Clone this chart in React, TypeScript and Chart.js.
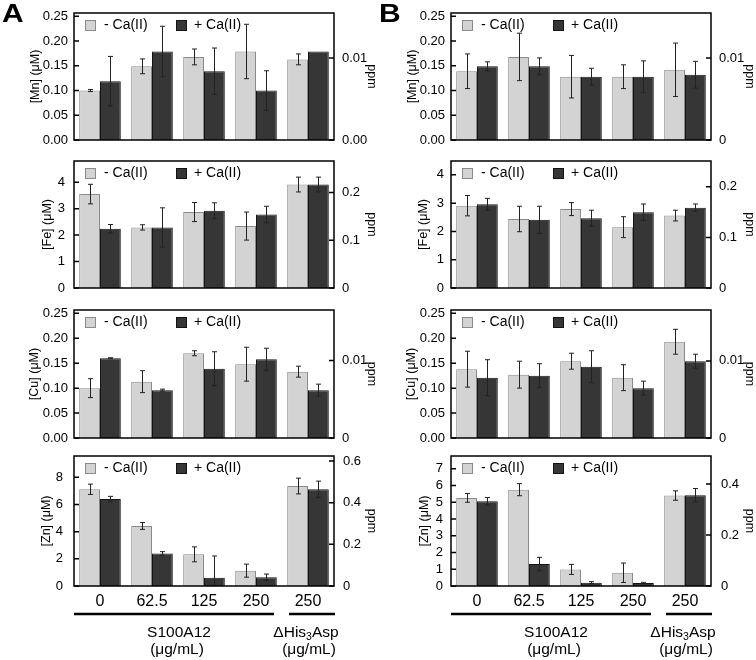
import React, { useEffect, useRef } from 'react';
import { Chart, registerables } from 'chart.js';

Chart.register(...registerables);

const FONT = '"Liberation Sans", Arial, Helvetica, sans-serif';
Chart.defaults.font.family = FONT;
Chart.defaults.color = '#000';

// ---------- data ----------
const categories = ['0', '62.5', '125', '250', '250'];
const seriesNames = ['- Ca(II)', '+ Ca(II)'];

// Panel A
const mnA_noCa = [0.100, 0.149, 0.168, 0.179, 0.163];
const mnA_noCaErr = [0.002, 0.015, 0.016, 0.055, 0.011];
const mnA_Ca = [0.119, 0.179, 0.139, 0.100, 0.179];
const mnA_CaErr = [0.050, 0.051, 0.047, 0.040, 0];

const feA_noCa = [3.55, 2.29, 2.87, 2.34, 3.91];
const feA_noCaErr = [0.37, 0.10, 0.36, 0.53, 0.28];
const feA_Ca = [2.24, 2.29, 2.92, 2.78, 3.91];
const feA_CaErr = [0.16, 0.74, 0.30, 0.31, 0.28];

const cuA_noCa = [0.100, 0.113, 0.170, 0.148, 0.133];
const cuA_noCaErr = [0.019, 0.022, 0.005, 0.034, 0.011];
const cuA_Ca = [0.160, 0.096, 0.139, 0.158, 0.096];
const cuA_CaErr = [0.001, 0.002, 0.034, 0.022, 0.012];

const znA_noCa = [7.12, 4.42, 2.33, 1.13, 7.36];
const znA_noCaErr = [0.38, 0.25, 0.55, 0.48, 0.58];
const znA_Ca = [6.40, 2.40, 0.61, 0.64, 7.12];
const znA_CaErr = [0.20, 0.13, 1.60, 0.24, 0.60];

// Panel B
const mnB_noCa = [0.139, 0.168, 0.128, 0.128, 0.142];
const mnB_noCaErr = [0.035, 0.048, 0.043, 0.024, 0.054];
const mnB_Ca = [0.149, 0.149, 0.128, 0.128, 0.132];
const mnB_CaErr = [0.009, 0.017, 0.017, 0.032, 0.027];

const feB_noCa = [2.91, 2.44, 2.79, 2.15, 2.56];
const feB_noCaErr = [0.36, 0.45, 0.23, 0.37, 0.19];
const feB_Ca = [2.96, 2.41, 2.47, 2.68, 2.84];
const feB_CaErr = [0.21, 0.48, 0.28, 0.29, 0.13];

const cuB_noCa = [0.138, 0.127, 0.154, 0.121, 0.193];
const cuB_noCaErr = [0.036, 0.027, 0.016, 0.026, 0.025];
const cuB_Ca = [0.121, 0.125, 0.143, 0.100, 0.154];
const cuB_CaErr = [0.036, 0.024, 0.032, 0.014, 0.014];

const znB_noCa = [5.26, 5.75, 0.99, 0.79, 5.40];
const znB_noCaErr = [0.26, 0.36, 0.30, 0.58, 0.28];
const znB_Ca = [5.06, 1.31, 0.20, 0.18, 5.42];
const znB_CaErr = [0.22, 0.40, 0.06, 0.04, 0.40];

// tick values and labels
const uMTicks005 = [0, 0.05, 0.10, 0.15, 0.20, 0.25];
const uMLabels005 = ['0.00', '0.05', '0.10', '0.15', '0.20', '0.25'];
const feTicks = [0, 1, 2, 3, 4];
const feLabels = ['0', '1', '2', '3', '4'];
const znATicks = [0, 2, 4, 6, 8];
const znALabels = ['0', '2', '4', '6', '8'];
const znBTicks = [0, 1, 2, 3, 4, 5, 6, 7];
const znBLabels = ['0', '1', '2', '3', '4', '5', '6', '7'];

const ppmSmallTicks = [0, 0.01];
const ppmMnALabels = ['0.00', '0.01'];
const ppmSmallLabels = ['0', '0.01'];
const ppmFeTicks = [0, 0.1, 0.2];
const ppmFeLabels = ['0', '0.1', '0.2'];
const ppmZnATicks = [0, 0.2, 0.4, 0.6];
const ppmZnALabels = ['0', '0.2', '0.4', '0.6'];
const ppmZnBTicks = [0, 0.2, 0.4];
const ppmZnBLabels = ['0', '0.2', '0.4'];

// ---------- layout / style ----------
const PAGE_W = 756;
const PAGE_H = 660;
const CANVAS_W = 378;
const COL_X = [0, 378];
const PLOT_LR = [[74, 334], [73, 333]];
const ROW_TB = [[13, 140], [161, 288], [310, 438], [456, 586]];
const PAD = 24;

const LIGHT = '#d3d3d3';
const LIGHT_EDGE = '#8a8a8a';
const DARK = '#363636';
const DARK_EDGE = '#141414';

type Panel = {
  col: number; row: number; title: string; titleX: number;
  minus: number[]; minusErr: number[]; plus: number[]; plusErr: number[];
  leftMax: number; leftTicks: number[]; leftLabels: string[]; leftPad: number;
  rightMax: number; rightTicks: number[]; rightLabels: string[]; rightPad: number;
  showX: boolean;
};

const panels: Panel[] = [
  { col: 0, row: 0, title: '[Mn] (\u03bcM)', titleX: 35, minus: mnA_noCa, minusErr: mnA_noCaErr, plus: mnA_Ca, plusErr: mnA_CaErr,
    leftMax: 0.2568, leftTicks: uMTicks005, leftLabels: uMLabels005, leftPad: 6,
    rightMax: 0.0155, rightTicks: ppmSmallTicks, rightLabels: ppmMnALabels, rightPad: 8, showX: false },
  { col: 0, row: 1, title: '[Fe] (\u03bcM)', titleX: 47.5, minus: feA_noCa, minusErr: feA_noCaErr, plus: feA_Ca, plusErr: feA_CaErr,
    leftMax: 4.80, leftTicks: feTicks, leftLabels: feLabels, leftPad: 9,
    rightMax: 0.266, rightTicks: ppmFeTicks, rightLabels: ppmFeLabels, rightPad: 8, showX: false },
  { col: 0, row: 2, title: '[Cu] (\u03bcM)', titleX: 34, minus: cuA_noCa, minusErr: cuA_noCaErr, plus: cuA_Ca, plusErr: cuA_CaErr,
    leftMax: 0.2567, leftTicks: uMTicks005, leftLabels: uMLabels005, leftPad: 6,
    rightMax: 0.0165, rightTicks: ppmSmallTicks, rightLabels: ppmSmallLabels, rightPad: 8, showX: false },
  { col: 0, row: 3, title: '[Zn] (\u03bcM)', titleX: 46, minus: znA_noCa, minusErr: znA_noCaErr, plus: znA_Ca, plusErr: znA_CaErr,
    leftMax: 9.57, leftTicks: znATicks, leftLabels: znALabels, leftPad: 11,
    rightMax: 0.624, rightTicks: ppmZnATicks, rightLabels: ppmZnALabels, rightPad: 9, showX: true },
  { col: 1, row: 0, title: '[Mn] (\u03bcM)', titleX: 34.5, minus: mnB_noCa, minusErr: mnB_noCaErr, plus: mnB_Ca, plusErr: mnB_CaErr,
    leftMax: 0.2568, leftTicks: uMTicks005, leftLabels: uMLabels005, leftPad: 6,
    rightMax: 0.0155, rightTicks: ppmSmallTicks, rightLabels: ppmSmallLabels, rightPad: 8, showX: false },
  { col: 1, row: 1, title: '[Fe] (\u03bcM)', titleX: 45.5, minus: feB_noCa, minusErr: feB_noCaErr, plus: feB_Ca, plusErr: feB_CaErr,
    leftMax: 4.49, leftTicks: feTicks, leftLabels: feLabels, leftPad: 7,
    rightMax: 0.251, rightTicks: ppmFeTicks, rightLabels: ppmFeLabels, rightPad: 8, showX: false },
  { col: 1, row: 2, title: '[Cu] (\u03bcM)', titleX: 33, minus: cuB_noCa, minusErr: cuB_noCaErr, plus: cuB_Ca, plusErr: cuB_CaErr,
    leftMax: 0.2567, leftTicks: uMTicks005, leftLabels: uMLabels005, leftPad: 6,
    rightMax: 0.0166, rightTicks: ppmSmallTicks, rightLabels: ppmSmallLabels, rightPad: 8, showX: false },
  { col: 1, row: 3, title: '[Zn] (\u03bcM)', titleX: 46, minus: znB_noCa, minusErr: znB_noCaErr, plus: znB_Ca, plusErr: znB_CaErr,
    leftMax: 7.76, leftTicks: znBTicks, leftLabels: znBLabels, leftPad: 8,
    rightMax: 0.51, rightTicks: ppmZnBTicks, rightLabels: ppmZnBLabels, rightPad: 10, showX: true },
];

// ---------- plugins ----------
const errorBarPlugin = {
  id: 'errorBars',
  afterDatasetsDraw(chart: any) {
    const ctx = chart.ctx;
    ctx.save();
    ctx.strokeStyle = '#222';
    ctx.lineWidth = 1;
    chart.data.datasets.forEach((ds: any, di: number) => {
      const meta = chart.getDatasetMeta(di);
      const ys = chart.scales[meta.yAxisID];
      meta.data.forEach((bar: any, i: number) => {
        const v = ds.data[i];
        const e = ds.errors ? ds.errors[i] : 0;
        if (!e) return;
        const lo = Math.max(0, v - e);
        const yHi = ys.getPixelForValue(v + e);
        const yLo = ys.getPixelForValue(lo);
        const x = Math.round(bar.x) + 0.5;
        ctx.beginPath();
        ctx.moveTo(x, yHi);
        ctx.lineTo(x, yLo);
        ctx.moveTo(x - 2.5, yHi);
        ctx.lineTo(x + 2.5, yHi);
        if (v - e > 0) {
          ctx.moveTo(x - 2.5, yLo);
          ctx.lineTo(x + 2.5, yLo);
        }
        ctx.stroke();
      });
    });
    ctx.restore();
  },
};

const framePlugin = {
  id: 'frame',
  afterDraw(chart: any) {
    const { ctx, chartArea: a, scales } = chart;
    ctx.save();
    ctx.strokeStyle = '#000';
    ctx.lineWidth = 1.5;
    ctx.strokeRect(a.left, a.top, a.right - a.left, a.bottom - a.top);
    ctx.beginPath();
    for (const t of scales.y.ticks) {
      const py = scales.y.getPixelForValue(t.value);
      ctx.moveTo(a.left, py);
      ctx.lineTo(a.left + 5, py);
    }
    for (const t of scales.y1.ticks) {
      const py = scales.y1.getPixelForValue(t.value);
      ctx.moveTo(a.right - 5, py);
      ctx.lineTo(a.right, py);
    }
    ctx.stroke();
    ctx.restore();
  },
};

const legendPlugin = {
  id: 'innerLegend',
  afterDraw(chart: any) {
    const { ctx, chartArea: a } = chart;
    const ds = chart.data.datasets;
    const items = [
      { boxX: 11, textX: 30 },
      { boxX: 102, textX: 120 },
    ];
    ctx.save();
    ctx.font = `14px ${FONT}`;
    ctx.textBaseline = 'middle';
    ctx.textAlign = 'left';
    items.forEach((it, i) => {
      const bx = a.left + it.boxX;
      const by = a.top + 7;
      ctx.fillStyle = ds[i].backgroundColor;
      ctx.fillRect(bx, by, 10, 10);
      ctx.strokeStyle = ds[i].borderColor;
      ctx.lineWidth = 1;
      ctx.strokeRect(bx + 0.5, by + 0.5, 10, 10);
      ctx.fillStyle = '#000';
      ctx.fillText(ds[i].label, a.left + it.textX, a.top + 12.5);
    });
    ctx.restore();
  },
};

const groupPlugin = {
  id: 'groups',
  afterDraw(chart: any) {
    if (!chart.options.scales.x.display) return;
    const { ctx, chartArea: a, scales } = chart;
    const xs = scales.x;
    const p0 = xs.getPixelForValue(0);
    const p3 = xs.getPixelForValue(3);
    const p4 = xs.getPixelForValue(4);
    const boundary = (p3 + p4) / 2;
    const lineY = a.bottom + 28;
    ctx.save();
    ctx.strokeStyle = '#000';
    ctx.lineWidth = 2.5;
    ctx.beginPath();
    ctx.moveTo(a.left, lineY);
    ctx.lineTo(boundary - 8, lineY);
    ctx.moveTo(boundary + 7, lineY);
    ctx.lineTo(a.right + 1, lineY);
    ctx.stroke();

    ctx.fillStyle = '#000';
    ctx.textBaseline = 'middle';
    ctx.textAlign = 'center';
    const f = 15.5;
    ctx.font = `${f}px ${FONT}`;
    const y1 = a.bottom + 47;
    const y2 = a.bottom + 64;
    const c1 = (p0 + p3) / 2 + 1;
    ctx.fillText('S100A12', c1, y1);
    ctx.fillText('(\u03bcg/mL)', c1 - 2, y2);

    const partA = '\u0394His';
    const partSub = '3';
    const partB = 'Asp';
    ctx.font = `${f}px ${FONT}`;
    const wA = ctx.measureText(partA).width;
    const wB = ctx.measureText(partB).width;
    ctx.font = `${f * 0.68}px ${FONT}`;
    const wS = ctx.measureText(partSub).width;
    const total = wA + wS + wB;
    let x = p4 - 2 - total / 2;
    ctx.textAlign = 'left';
    ctx.font = `${f}px ${FONT}`;
    ctx.fillText(partA, x, y1);
    x += wA;
    ctx.font = `${f * 0.68}px ${FONT}`;
    ctx.fillText(partSub, x, y1 + 4);
    x += wS;
    ctx.font = `${f}px ${FONT}`;
    ctx.fillText(partB, x, y1);
    ctx.textAlign = 'center';
    ctx.fillText('(\u03bcg/mL)', p4 + 1, y2);
    ctx.restore();
  },
};

// ---------- components ----------
function PanelChart({ p }: { p: Panel }) {
  const ref = useRef<HTMLCanvasElement | null>(null);
  const [top, bottom] = ROW_TB[p.row];
  const [left, right] = PLOT_LR[p.col];
  const cTop = top - PAD;
  const cH = p.showX ? PAGE_H - cTop : bottom + PAD - cTop;

  useEffect(() => {
    if (!ref.current) return;
    const tickFont = { size: 13, family: FONT };
    const chart = new Chart(ref.current, {
      type: 'bar',
      data: {
        labels: categories,
        datasets: [
          { label: seriesNames[0], data: p.minus, backgroundColor: LIGHT, borderColor: LIGHT_EDGE, borderWidth: 1, errors: p.minusErr, yAxisID: 'y' } as any,
          { label: seriesNames[1], data: p.plus, backgroundColor: DARK, borderColor: DARK_EDGE, borderWidth: 1, errors: p.plusErr, yAxisID: 'y' } as any,
        ],
      },
      options: {
        animation: false,
        responsive: false,
        devicePixelRatio: 1,
        layout: { padding: { top: PAD, bottom: p.showX ? 0 : PAD, left: 0, right: 0 } },
        plugins: { legend: { display: false }, tooltip: { enabled: false } },
        datasets: { bar: { categoryPercentage: 0.8, barPercentage: 1.0 } },
        scales: {
          x: {
            display: p.showX,
            grid: { display: false, drawTicks: false },
            border: { display: false },
            ticks: { font: { size: 16, family: FONT }, color: '#000', padding: 6, maxRotation: 0, autoSkip: false },
            afterFit: (s: any) => { s.height = p.showX ? PAGE_H - bottom : 0; },
          },
          y: {
            position: 'left',
            min: 0,
            max: p.leftMax,
            grid: { display: false, drawTicks: false },
            border: { display: false },
            afterBuildTicks: (s: any) => { s.ticks = p.leftTicks.map((v) => ({ value: v })); },
            ticks: { font: tickFont, color: '#000', padding: p.leftPad, autoSkip: false, callback: (_v: any, i: number) => p.leftLabels[i] },
            title: { display: true, text: p.title, color: '#000', font: { size: 12.5, family: FONT, lineHeight: 1 }, padding: { top: p.titleX - 6, bottom: 0 } },
            afterFit: (s: any) => { s.width = left; },
          },
          y1: {
            position: 'right',
            min: 0,
            max: p.rightMax,
            grid: { display: false, drawTicks: false },
            border: { display: false },
            afterBuildTicks: (s: any) => { s.ticks = p.rightTicks.map((v) => ({ value: v })); },
            ticks: { font: tickFont, color: '#000', padding: p.rightPad, autoSkip: false, callback: (_v: any, i: number) => p.rightLabels[i] },
            title: { display: true, text: 'ppm', color: '#000', font: { size: 12.5, family: FONT, lineHeight: 1 }, padding: { top: 0, bottom: 0 } },
            afterFit: (s: any) => { s.width = CANVAS_W - right; },
          },
        },
      } as any,
      plugins: [errorBarPlugin, framePlugin, legendPlugin, groupPlugin],
    });
    return () => chart.destroy();
  }, [p]);

  return (
    <canvas
      ref={ref}
      width={CANVAS_W}
      height={cH}
      style={{ position: 'absolute', left: COL_X[p.col], top: cTop, width: CANVAS_W, height: cH }}
    />
  );
}

export default function App() {
  const letterStyle: React.CSSProperties = {
    position: 'absolute',
    top: 1,
    fontFamily: FONT,
    fontWeight: 'bold',
    fontSize: 25,
    lineHeight: '25px',
    transform: 'scaleX(1.2)',
    transformOrigin: 'left top',
    color: '#000',
  };
  return (
    <div style={{ position: 'absolute', left: 0, top: 0, width: PAGE_W, height: PAGE_H, background: '#fff', overflow: 'hidden' }}>
      {panels.map((p, i) => (
        <PanelChart key={i} p={p} />
      ))}
      <div style={{ ...letterStyle, left: 2, zIndex: 2 }}>A</div>
      <div style={{ ...letterStyle, left: 379, zIndex: 2 }}>B</div>
    </div>
  );
}
